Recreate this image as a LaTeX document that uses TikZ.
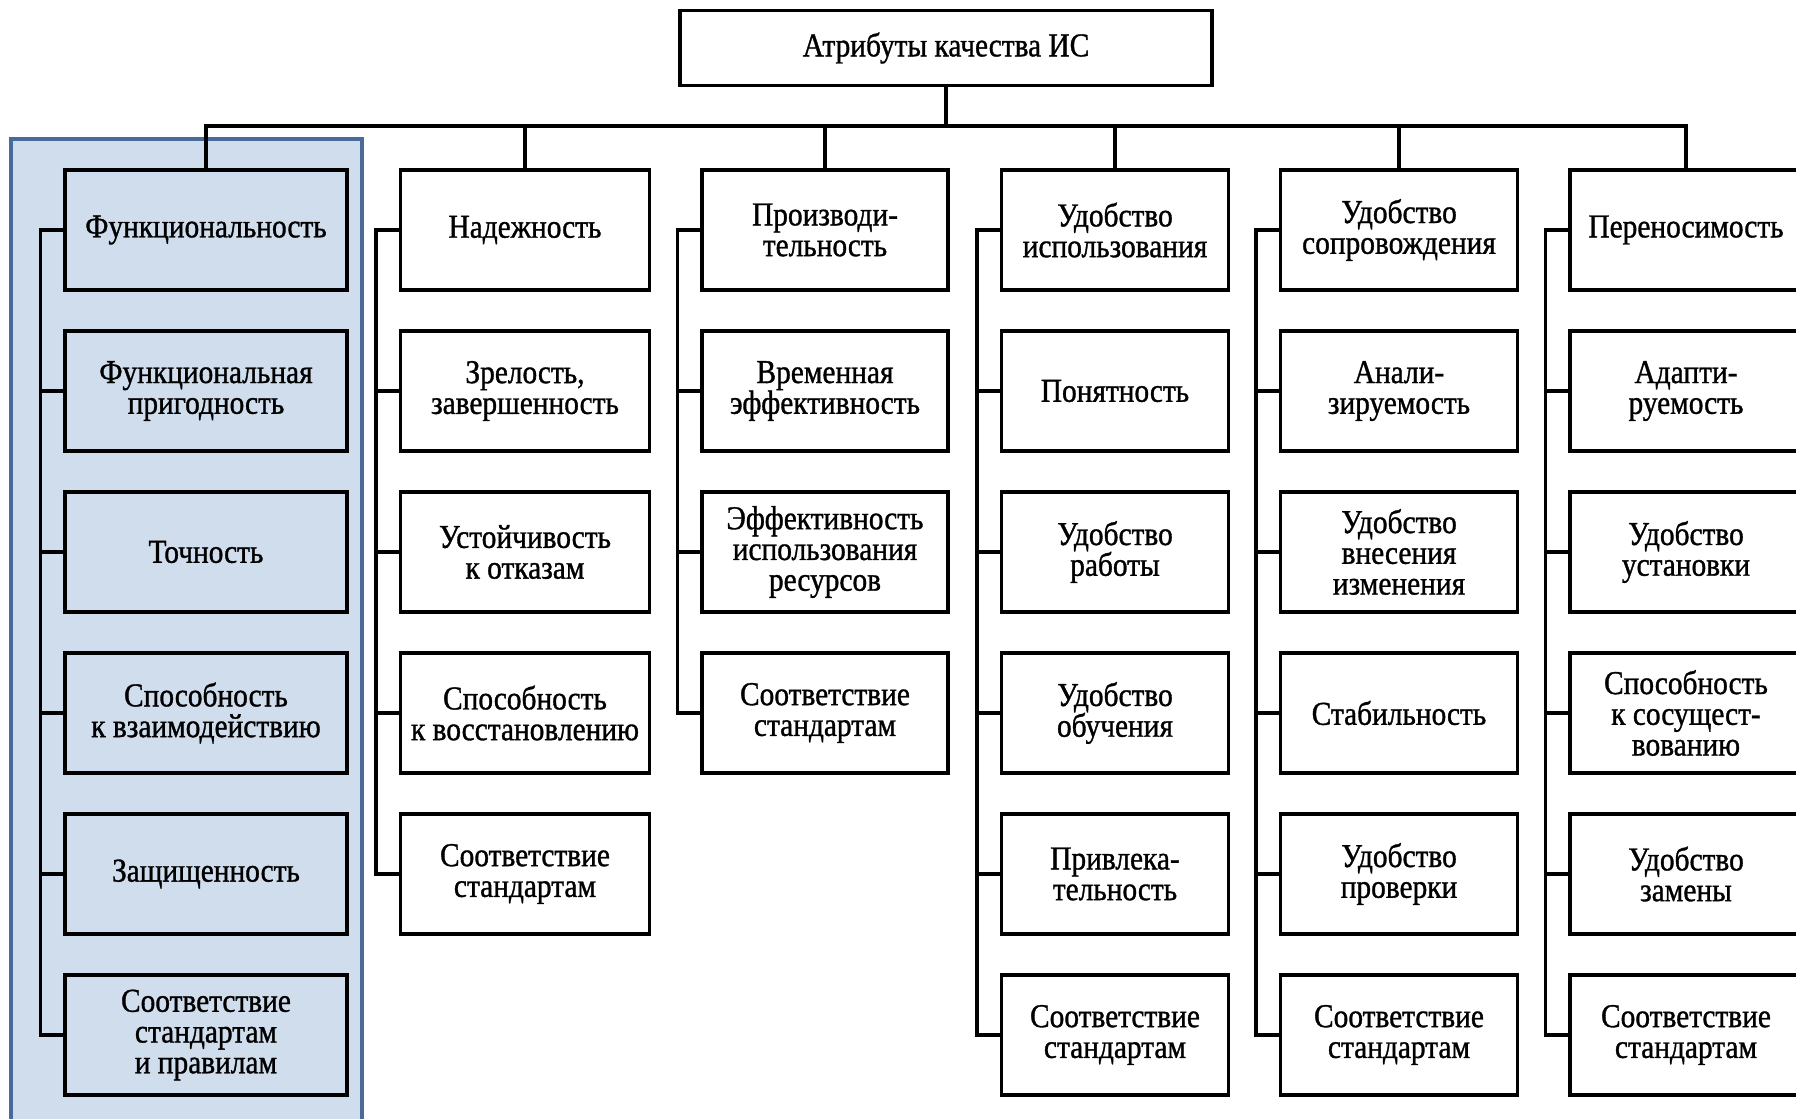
\documentclass[tikz,border=0pt]{standalone}
\usepackage{fontspec}
\setmainfont[FakeStretch=0.88, FakeBold=1]{Liberation Serif}
\usepackage{tikz}
\usetikzlibrary{calc}
\definecolor{panelfill}{HTML}{D0DDEC}
\definecolor{paneledge}{HTML}{4A6A9A}

\begin{document}
\begin{tikzpicture}[x=0.02cm, y=-0.02cm, every node/.style={font=\fontsize{19}{17.5}\selectfont},
  attr/.style={draw, line width=2pt, fill=white, align=center, minimum height=2.4cm, minimum width=#1, inner sep=1pt},
  link/.style={line width=2pt}]
  \useasboundingbox (0,0) rectangle (1796,1119);
  \clip (0,0) rectangle (1796,1119);
  \draw[line width=2.2pt, draw=paneledge, fill=panelfill] (11,139) rectangle (362,1140);

  \node[draw, line width=2pt, minimum width=10.64cm, minimum height=1.5cm] (root) at (946,48) {Атрибуты качества ИС};

  \node[attr=5.64cm, fill=panelfill] (f1) at (206,230) {Функциональность};
  \node[attr=5.64cm, fill=panelfill] (f2) at (206,391) {Функциональная\\пригодность};
  \node[attr=5.64cm, fill=panelfill] (f3) at (206,552) {Точность};
  \node[attr=5.64cm, fill=panelfill] (f4) at (206,713) {Способность\\к взаимодействию};
  \node[attr=5.64cm, fill=panelfill] (f5) at (206,874) {Защищенность};
  \node[attr=5.64cm, fill=panelfill] (f6) at (206,1035) {Соответствие\\стандартам\\и правилам};

  \node[attr=4.98cm] (n1) at (525,230) {Надежность};
  \node[attr=4.98cm] (n2) at (525,391) {Зрелость,\\завершенность};
  \node[attr=4.98cm] (n3) at (525,552) {Устойчивость\\к отказам};
  \node[attr=4.98cm] (n4) at (525,713) {Способность\\к восстановлению};
  \node[attr=4.98cm] (n5) at (525,874) {Соответствие\\стандартам};

  \node[attr=4.92cm] (p1) at (825,230) {Производи-\\тельность};
  \node[attr=4.92cm] (p2) at (825,391) {Временная\\эффективность};
  \node[attr=4.92cm] (p3) at (825,552) {Эффективность\\использования\\ресурсов};
  \node[attr=4.92cm] (p4) at (825,713) {Соответствие\\стандартам};

  \node[attr=4.54cm] (u1) at (1115,230) {Удобство\\использования};
  \node[attr=4.54cm] (u2) at (1115,391) {Понятность};
  \node[attr=4.54cm] (u3) at (1115,552) {Удобство\\работы};
  \node[attr=4.54cm] (u4) at (1115,713) {Удобство\\обучения};
  \node[attr=4.54cm] (u5) at (1115,874) {Привлека-\\тельность};
  \node[attr=4.54cm] (u6) at (1115,1035) {Соответствие\\стандартам};

  \node[attr=4.74cm] (s1) at (1399,230) {Удобство\\сопровождения};
  \node[attr=4.74cm] (s2) at (1399,391) {Анали-\\зируемость};
  \node[attr=4.74cm] (s3) at (1399,552) {Удобство\\внесения\\изменения};
  \node[attr=4.74cm] (s4) at (1399,713) {Стабильность};
  \node[attr=4.74cm] (s5) at (1399,874) {Удобство\\проверки};
  \node[attr=4.74cm] (s6) at (1399,1035) {Соответствие\\стандартам};

  \node[attr=4.64cm] (m1) at (1686,230) {Переносимость};
  \node[attr=4.64cm] (m2) at (1686,391) {Адапти-\\руемость};
  \node[attr=4.64cm] (m3) at (1686,552) {Удобство\\установки};
  \node[attr=4.64cm] (m4) at (1686,713) {Способность\\к сосущест-\\вованию};
  \node[attr=4.64cm] (m5) at (1686,874) {Удобство\\замены};
  \node[attr=4.64cm] (m6) at (1686,1035) {Соответствие\\стандартам};

  \coordinate (bus) at (946,126);
  \draw[link] (root.south) -- (bus);
  \draw[link] (f1.north) |- (bus) -| (m1.north);
  \draw[link] (n1.north) -- (n1.north |- bus);
  \draw[link] (p1.north) -- (p1.north |- bus);
  \draw[link] (u1.north) -- (u1.north |- bus);
  \draw[link] (s1.north) -- (s1.north |- bus);

  \draw[link] (f1.west) -- ++(-23,0) |- (f6.west) (f2.west) -- ++(-23,0) (f3.west) -- ++(-23,0) (f4.west) -- ++(-23,0) (f5.west) -- ++(-23,0);
  \draw[link] (n1.west) -- ++(-23,0) |- (n5.west) (n2.west) -- ++(-23,0) (n3.west) -- ++(-23,0) (n4.west) -- ++(-23,0);
  \draw[link] (p1.west) -- ++(-23,0) |- (p4.west) (p2.west) -- ++(-23,0) (p3.west) -- ++(-23,0);
  \draw[link] (u1.west) -- ++(-23,0) |- (u6.west) (u2.west) -- ++(-23,0) (u3.west) -- ++(-23,0) (u4.west) -- ++(-23,0) (u5.west) -- ++(-23,0);
  \draw[link] (s1.west) -- ++(-23,0) |- (s6.west) (s2.west) -- ++(-23,0) (s3.west) -- ++(-23,0) (s4.west) -- ++(-23,0) (s5.west) -- ++(-23,0);
  \draw[link] (m1.west) -- ++(-23,0) |- (m6.west) (m2.west) -- ++(-23,0) (m3.west) -- ++(-23,0) (m4.west) -- ++(-23,0) (m5.west) -- ++(-23,0);
\end{tikzpicture}
\end{document}
